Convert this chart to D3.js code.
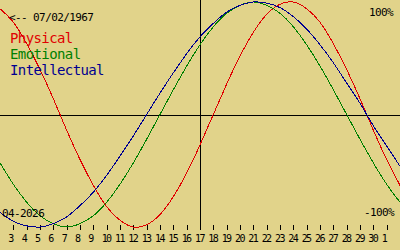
<!DOCTYPE html>
<html>
<head>
<meta charset="utf-8">
<script src="https://cdn.jsdelivr.net/npm/d3@7"></script>
<style>
  html, body { margin: 0; padding: 0; background: #e1d38a; }
  svg { display: block; }
  text { font-family: "DejaVu Sans Mono", monospace; }
</style>
</head>
<body>
<svg width="400" height="250"></svg>
<script>
// days of the month shown (2 Apr .. 2 May 2026, as running day number)
var days = d3.range(2, 33);
var tickDays = d3.range(3, 32);
var tickLabels = ["3","4","5","6","7","8","9","10","11","12","13","14","15","16","17",
  "18","19","20","21","22","23","24","25","26","27","28","29","30","1"];

var physical = [0.94, 0.82, 0.63, 0.40, 0.14, -0.14, -0.40, -0.63, -0.82, -0.94, -1.00,
  -0.98, -0.89, -0.73, -0.52, -0.27, 0.00, 0.27, 0.52, 0.73, 0.89, 0.98, 1.00, 0.94,
  0.82, 0.63, 0.40, 0.14, -0.14, -0.40, -0.63];
var emotional = [-0.43, -0.62, -0.78, -0.90, -0.97, -1.00, -0.97, -0.90, -0.78, -0.62,
  -0.43, -0.22, 0.00, 0.22, 0.43, 0.62, 0.78, 0.90, 0.97, 1.00, 0.97, 0.90, 0.78, 0.62,
  0.43, 0.22, 0.00, -0.22, -0.43, -0.62, -0.78];
var intellectual = [-0.87, -0.95, -0.99, -1.00, -0.97, -0.91, -0.81, -0.69, -0.54, -0.37,
  -0.19, 0.00, 0.19, 0.37, 0.54, 0.69, 0.81, 0.91, 0.97, 1.00, 0.99, 0.95, 0.87, 0.76,
  0.62, 0.46, 0.28, 0.10, -0.10, -0.28, -0.46];

var today = 17;
var birth = "<-- 07/02/1967";
var monthLabel = "04-2026";

var series = [
  {name: "Physical", values: physical, color: "#e00000"},
  {name: "Emotional", values: emotional, color: "#008000"},
  {name: "Intellectual", values: intellectual, color: "#000090"}
];

var svg = d3.select("svg"),
    width = +svg.attr("width"),
    height = +svg.attr("height");

var x = d3.scaleLinear().domain([2, 32]).range([0, width]),
    y = d3.scaleLinear().domain([-1, 1]).range([227, 2]);

// zero line
var y0 = Math.round(y(0)) + 0.5;
svg.append("line")
    .attr("x1", 0).attr("x2", width)
    .attr("y1", y0).attr("y2", y0)
    .attr("stroke", "#000")
    .attr("shape-rendering", "crispEdges");

// today marker
svg.append("line")
    .attr("x1", Math.round(x(today)) + 0.5).attr("x2", Math.round(x(today)) + 0.5)
    .attr("y1", 0).attr("y2", 230)
    .attr("stroke", "#000")
    .attr("shape-rendering", "crispEdges");

// day axis
var axis = svg.append("g")
    .attr("class", "axis axis--x")
    .attr("transform", "translate(0,225)")
    .call(d3.axisBottom(x).tickValues(tickDays).tickSize(5).tickPadding(6)
      .tickFormat(function(d, i) { return tickLabels[i]; }));
axis.select(".domain").remove();
axis.selectAll(".tick line")
    .attr("stroke", "#000")
    .attr("shape-rendering", "crispEdges");
axis.selectAll(".tick text")
    .attr("text-anchor", "start")
    .attr("x", -5.5)
    .attr("y", 17)
    .attr("dy", null)
    .attr("fill", "#000")
    .style("font-size", "10px")
    .style("letter-spacing", "-1.6px");

// curves
var line = d3.line()
    .x(function(d, i) { return x(days[i]); })
    .y(function(d) { return y(d); })
    .curve(d3.curveNatural);

svg.selectAll(".curve")
    .data(series)
    .enter().append("path")
    .attr("class", "curve")
    .attr("fill", "none")
    .attr("stroke", function(d) { return d.color; })
    .attr("stroke-width", 1)
    .attr("shape-rendering", "crispEdges")
    .attr("d", function(d) { return line(d.values); });

// texts
function small(txt, tx, ty) {
  svg.append("text")
      .attr("x", tx).attr("y", ty)
      .attr("fill", "#000")
      .style("font-size", "11px")
      .style("letter-spacing", "-0.6px")
      .text(txt);
}
small(birth, 9, 21);
small("100%", 369, 16);
small("-100%", 364, 216);
small(monthLabel, 2, 217);

svg.selectAll(".legend")
    .data(series)
    .enter().append("text")
    .attr("class", "legend")
    .attr("x", 10)
    .attr("y", function(d, i) { return 43 + i * 16; })
    .attr("fill", function(d) { return d.color; })
    .style("font-size", "14px")
    .style("letter-spacing", "-0.6px")
    .text(function(d) { return d.name; });
</script>
</body>
</html>
